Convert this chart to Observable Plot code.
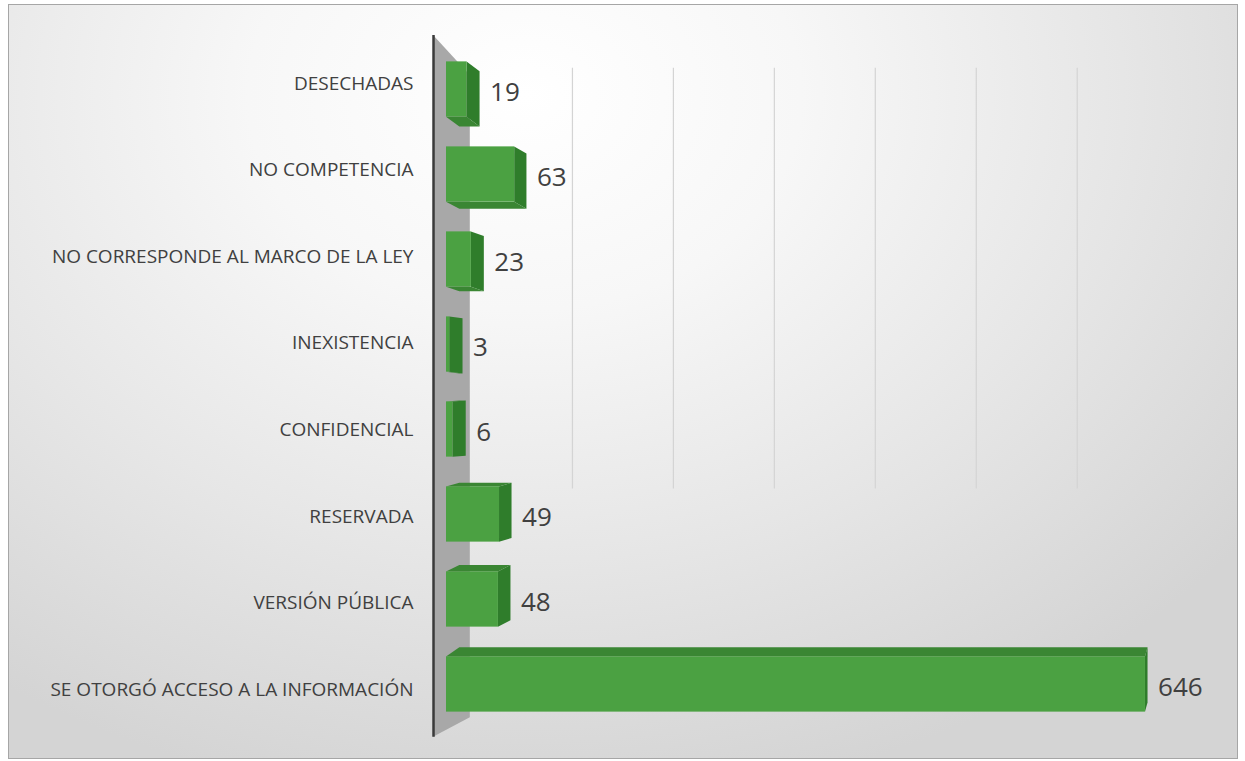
<!DOCTYPE html>
<html>
<head>
<meta charset="utf-8">
<script src="https://cdn.jsdelivr.net/npm/d3@7"></script>
<script src="https://cdn.jsdelivr.net/npm/@observablehq/plot@0.6"></script>
<style>
  html, body { margin: 0; padding: 0; background: #ffffff; }
  #wrap { position: relative; width: 1245px; height: 761px; overflow: hidden; }
  #bg {
    position: absolute; left: 8px; top: 4px; width: 1228px; height: 753px;
    border: 1px solid #a6a6a6;
    background: radial-gradient(ellipse 75% 95% at 42% 12%, #ffffff 0%, #f7f7f7 30%, #e6e6e6 65%, #d4d4d4 100%);
  }
  #chart { position: absolute; left: 0; top: 0; }
</style>
</head>
<body>
<div id="wrap"><div id="bg"></div><div id="chart"></div></div>
<script>
const categories = [
  "DESECHADAS",
  "NO COMPETENCIA",
  "NO CORRESPONDE AL MARCO DE LA LEY",
  "INEXISTENCIA",
  "CONFIDENCIAL",
  "RESERVADA",
  "VERSIÓN PÚBLICA",
  "SE OTORGÓ ACCESO A LA INFORMACIÓN"
];
const values = [19, 63, 23, 3, 6, 49, 48, 646];
const gridTicks = [100, 200, 300, 400, 500, 600];

const data = categories.map((c, i) => ({c, i, v: values[i]}));

// 3D look (perspective helpers, style only)
const H = 0.325;                        // half bar thickness (row units)
const VX = 800, DEPTH = 0.0154;        // horizontal vanishing point / depth factor
const VY = 3.66, SHIFT = 0.032;        // vertical vanishing row / shift factor
const depth = x => Math.max(0, (VX - x) * DEPTH);
const shift = i => (VY - i) * SHIFT;
const back = x => 23.1 + x * 0.933;    // back-wall projection of gridlines
const labelRow = i => i - 0.07 + 0.019 * i; // category labels sit on the wall plane

const sideFaces = data.flatMap(d => [
  {i: d.i, x: d.v, y1: d.i - H, y2: d.i + H},
  {i: d.i, x: d.v + depth(d.v), y1: d.i - H + shift(d.i), y2: d.i + H + shift(d.i)}
]);
const flatFaces = data.flatMap(d => {
  const e = shift(d.i) > 0 ? d.i + H : d.i - H;
  return [
    {i: d.i, y: e, x1: 0, x2: d.v},
    {i: d.i, y: e + shift(d.i), x1: depth(0), x2: d.v + depth(d.v)}
  ];
});
const wall = [
  {x: -12, y1: -0.635, y2: 7.62},
  {x: 22, y1: -0.165, y2: 7.39}
];

const FRONT = "#4ba142", SIDE = "#2f7d2b", FLAT = "#3a8633";

const chart = Plot.plot({
  width: 1245,
  height: 761,
  marginLeft: 446,
  marginRight: 41.6,
  marginTop: 46.5,
  marginBottom: 34.5,
  style: {background: "transparent", fontFamily: "'Open Sans', Lato, sans-serif", fontSize: "16px", color: "#404040"},
  x: {domain: [0, 700], axis: null},
  y: {domain: [-0.5, 7.5], reverse: true, axis: null},
  marks: [
    Plot.ruleX(gridTicks, {x: back, y1: -0.25, y2: 4.7, stroke: "#d4d4d4", strokeWidth: 1.2}),
    Plot.areaY(wall, {x: "x", y1: "y1", y2: "y2", fill: "#a8a8a8"}),
    Plot.ruleX([-12], {y1: -0.635, y2: 7.62, stroke: "#3a3a3a", strokeWidth: 2.5}),
    Plot.areaX(flatFaces, {y: "y", x1: "x1", x2: "x2", z: "i", fill: FLAT}),
    Plot.areaY(sideFaces, {x: "x", y1: "y1", y2: "y2", z: "i", fill: SIDE}),
    Plot.rect(data, {x1: 0, x2: "v", y1: d => d.i - H, y2: d => d.i + H, fill: FRONT}),
    Plot.text(data, {
      x: 0, y: d => labelRow(d.i), text: "c", dx: -33,
      textAnchor: "end", fontSize: 19, fill: "#404040"
    }),
    Plot.text(data, {
      x: d => d.v + depth(d.v), y: d => d.i + 0.04, text: d => String(d.v),
      dx: 10, textAnchor: "start", fontSize: 26, fill: "#404040"
    })
  ]
});
document.getElementById("chart").appendChild(chart);
</script>
</body>
</html>
